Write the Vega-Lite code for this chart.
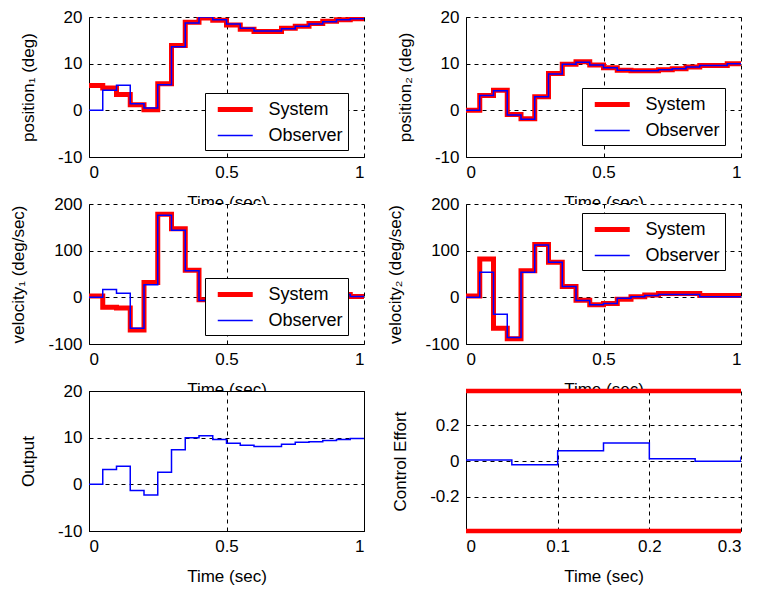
{
  "$schema": "https://vega.github.io/schema/vega-lite/v6.json",
  "background": "white",
  "padding": {"left": 9, "top": 8, "right": 0, "bottom": 3},
  "columns": 2,
  "spacing": {"row": 47, "column": 102},
  "bounds": "flush",
  "resolve": {
    "scale": {"x": "independent", "y": "independent", "color": "independent", "strokeWidth": "independent"},
    "legend": {"color": "independent", "strokeWidth": "independent"}
  },
  "datasets": {
    "d": [
      {"p":"pos1","s":"System","t":0,"y":5.3},{"p":"pos1","s":"System","t":0.05,"y":4.8},{"p":"pos1","s":"System","t":0.1,"y":3.4},{"p":"pos1","s":"System","t":0.15,"y":1.2},{"p":"pos1","s":"System","t":0.2,"y":0.1},{"p":"pos1","s":"System","t":0.25,"y":5.7},{"p":"pos1","s":"System","t":0.3,"y":13.9},{"p":"pos1","s":"System","t":0.35,"y":18.9},{"p":"pos1","s":"System","t":0.4,"y":19.8},{"p":"pos1","s":"System","t":0.45,"y":19.3},{"p":"pos1","s":"System","t":0.5,"y":18.3},{"p":"pos1","s":"System","t":0.55,"y":17.4},{"p":"pos1","s":"System","t":0.6,"y":16.9},{"p":"pos1","s":"System","t":0.65,"y":16.9},{"p":"pos1","s":"System","t":0.7,"y":17.6},{"p":"pos1","s":"System","t":0.75,"y":18.0},{"p":"pos1","s":"System","t":0.8,"y":18.6},{"p":"pos1","s":"System","t":0.85,"y":19.1},{"p":"pos1","s":"System","t":0.9,"y":19.4},{"p":"pos1","s":"System","t":0.95,"y":19.6},{"p":"pos1","s":"System","t":1,"y":19.6},
      {"p":"pos1","s":"Observer","t":0,"y":0},{"p":"pos1","s":"Observer","t":0.05,"y":4.3},{"p":"pos1","s":"Observer","t":0.1,"y":5.4},{"p":"pos1","s":"Observer","t":0.15,"y":1.4},{"p":"pos1","s":"Observer","t":0.2,"y":0.5},{"p":"pos1","s":"Observer","t":0.25,"y":5.5},{"p":"pos1","s":"Observer","t":0.3,"y":13.6},{"p":"pos1","s":"Observer","t":0.35,"y":18.7},{"p":"pos1","s":"Observer","t":0.4,"y":20.0},{"p":"pos1","s":"Observer","t":0.45,"y":19.4},{"p":"pos1","s":"Observer","t":0.5,"y":18.5},{"p":"pos1","s":"Observer","t":0.55,"y":17.6},{"p":"pos1","s":"Observer","t":0.6,"y":17.0},{"p":"pos1","s":"Observer","t":0.65,"y":17.0},{"p":"pos1","s":"Observer","t":0.7,"y":17.5},{"p":"pos1","s":"Observer","t":0.75,"y":18.0},{"p":"pos1","s":"Observer","t":0.8,"y":18.5},{"p":"pos1","s":"Observer","t":0.85,"y":19.0},{"p":"pos1","s":"Observer","t":0.9,"y":19.4},{"p":"pos1","s":"Observer","t":0.95,"y":19.6},{"p":"pos1","s":"Observer","t":1,"y":19.6},
      {"p":"pos2","s":"System","t":0,"y":0},{"p":"pos2","s":"System","t":0.05,"y":3.2},{"p":"pos2","s":"System","t":0.1,"y":4.3},{"p":"pos2","s":"System","t":0.15,"y":-0.9},{"p":"pos2","s":"System","t":0.2,"y":-1.8},{"p":"pos2","s":"System","t":0.25,"y":2.9},{"p":"pos2","s":"System","t":0.3,"y":7.9},{"p":"pos2","s":"System","t":0.35,"y":9.9},{"p":"pos2","s":"System","t":0.4,"y":10.4},{"p":"pos2","s":"System","t":0.45,"y":9.7},{"p":"pos2","s":"System","t":0.5,"y":9.1},{"p":"pos2","s":"System","t":0.55,"y":8.6},{"p":"pos2","s":"System","t":0.6,"y":8.5},{"p":"pos2","s":"System","t":0.65,"y":8.5},{"p":"pos2","s":"System","t":0.7,"y":8.7},{"p":"pos2","s":"System","t":0.75,"y":8.9},{"p":"pos2","s":"System","t":0.8,"y":9.3},{"p":"pos2","s":"System","t":0.85,"y":9.6},{"p":"pos2","s":"System","t":0.9,"y":9.6},{"p":"pos2","s":"System","t":0.95,"y":10.0},{"p":"pos2","s":"System","t":1,"y":10.0},
      {"p":"pos2","s":"Observer","t":0,"y":0},{"p":"pos2","s":"Observer","t":0.05,"y":3.2},{"p":"pos2","s":"Observer","t":0.1,"y":4.2},{"p":"pos2","s":"Observer","t":0.15,"y":-1.0},{"p":"pos2","s":"Observer","t":0.2,"y":-1.9},{"p":"pos2","s":"Observer","t":0.25,"y":2.9},{"p":"pos2","s":"Observer","t":0.3,"y":7.8},{"p":"pos2","s":"Observer","t":0.35,"y":9.9},{"p":"pos2","s":"Observer","t":0.4,"y":10.3},{"p":"pos2","s":"Observer","t":0.45,"y":9.7},{"p":"pos2","s":"Observer","t":0.5,"y":9.1},{"p":"pos2","s":"Observer","t":0.55,"y":8.6},{"p":"pos2","s":"Observer","t":0.6,"y":8.5},{"p":"pos2","s":"Observer","t":0.65,"y":8.5},{"p":"pos2","s":"Observer","t":0.7,"y":8.7},{"p":"pos2","s":"Observer","t":0.75,"y":8.9},{"p":"pos2","s":"Observer","t":0.8,"y":9.3},{"p":"pos2","s":"Observer","t":0.85,"y":9.6},{"p":"pos2","s":"Observer","t":0.9,"y":9.6},{"p":"pos2","s":"Observer","t":0.95,"y":10.0},{"p":"pos2","s":"Observer","t":1,"y":10.0},
      {"p":"vel1","s":"System","t":0,"y":3},{"p":"vel1","s":"System","t":0.05,"y":-21},{"p":"vel1","s":"System","t":0.1,"y":-23},{"p":"vel1","s":"System","t":0.15,"y":-70},{"p":"vel1","s":"System","t":0.2,"y":32},{"p":"vel1","s":"System","t":0.25,"y":178},{"p":"vel1","s":"System","t":0.3,"y":147},{"p":"vel1","s":"System","t":0.35,"y":58},{"p":"vel1","s":"System","t":0.4,"y":-5},{"p":"vel1","s":"System","t":0.45,"y":-15},{"p":"vel1","s":"System","t":0.5,"y":-20},{"p":"vel1","s":"System","t":0.55,"y":-18},{"p":"vel1","s":"System","t":0.6,"y":-10},{"p":"vel1","s":"System","t":0.65,"y":-3},{"p":"vel1","s":"System","t":0.7,"y":5},{"p":"vel1","s":"System","t":0.75,"y":10},{"p":"vel1","s":"System","t":0.8,"y":10},{"p":"vel1","s":"System","t":0.85,"y":8},{"p":"vel1","s":"System","t":0.9,"y":6},{"p":"vel1","s":"System","t":0.95,"y":2},{"p":"vel1","s":"System","t":1,"y":2},
      {"p":"vel1","s":"Observer","t":0,"y":0},{"p":"vel1","s":"Observer","t":0.05,"y":17},{"p":"vel1","s":"Observer","t":0.1,"y":9},{"p":"vel1","s":"Observer","t":0.15,"y":-66},{"p":"vel1","s":"Observer","t":0.2,"y":27},{"p":"vel1","s":"Observer","t":0.25,"y":176},{"p":"vel1","s":"Observer","t":0.3,"y":144},{"p":"vel1","s":"Observer","t":0.35,"y":57},{"p":"vel1","s":"Observer","t":0.4,"y":-7},{"p":"vel1","s":"Observer","t":0.45,"y":-15},{"p":"vel1","s":"Observer","t":0.5,"y":-20},{"p":"vel1","s":"Observer","t":0.55,"y":-18},{"p":"vel1","s":"Observer","t":0.6,"y":-10},{"p":"vel1","s":"Observer","t":0.65,"y":-3},{"p":"vel1","s":"Observer","t":0.7,"y":5},{"p":"vel1","s":"Observer","t":0.75,"y":10},{"p":"vel1","s":"Observer","t":0.8,"y":10},{"p":"vel1","s":"Observer","t":0.85,"y":8},{"p":"vel1","s":"Observer","t":0.9,"y":6},{"p":"vel1","s":"Observer","t":0.95,"y":2},{"p":"vel1","s":"Observer","t":1,"y":2},
      {"p":"vel2","s":"System","t":0,"y":3},{"p":"vel2","s":"System","t":0.05,"y":82},{"p":"vel2","s":"System","t":0.1,"y":-66},{"p":"vel2","s":"System","t":0.15,"y":-89},{"p":"vel2","s":"System","t":0.2,"y":57},{"p":"vel2","s":"System","t":0.25,"y":113},{"p":"vel2","s":"System","t":0.3,"y":75},{"p":"vel2","s":"System","t":0.35,"y":23},{"p":"vel2","s":"System","t":0.4,"y":-6},{"p":"vel2","s":"System","t":0.45,"y":-16},{"p":"vel2","s":"System","t":0.5,"y":-13},{"p":"vel2","s":"System","t":0.55,"y":-4},{"p":"vel2","s":"System","t":0.6,"y":1},{"p":"vel2","s":"System","t":0.65,"y":5},{"p":"vel2","s":"System","t":0.7,"y":8},{"p":"vel2","s":"System","t":0.75,"y":8},{"p":"vel2","s":"System","t":0.8,"y":8},{"p":"vel2","s":"System","t":0.85,"y":4},{"p":"vel2","s":"System","t":0.9,"y":4},{"p":"vel2","s":"System","t":0.95,"y":4},{"p":"vel2","s":"System","t":1,"y":4},
      {"p":"vel2","s":"Observer","t":0,"y":0},{"p":"vel2","s":"Observer","t":0.05,"y":54},{"p":"vel2","s":"Observer","t":0.1,"y":-36},{"p":"vel2","s":"Observer","t":0.15,"y":-86},{"p":"vel2","s":"Observer","t":0.2,"y":54},{"p":"vel2","s":"Observer","t":0.25,"y":112},{"p":"vel2","s":"Observer","t":0.3,"y":75},{"p":"vel2","s":"Observer","t":0.35,"y":23},{"p":"vel2","s":"Observer","t":0.4,"y":-7},{"p":"vel2","s":"Observer","t":0.45,"y":-16},{"p":"vel2","s":"Observer","t":0.5,"y":-13},{"p":"vel2","s":"Observer","t":0.55,"y":-2},{"p":"vel2","s":"Observer","t":0.6,"y":1},{"p":"vel2","s":"Observer","t":0.65,"y":4},{"p":"vel2","s":"Observer","t":0.7,"y":6},{"p":"vel2","s":"Observer","t":0.75,"y":6},{"p":"vel2","s":"Observer","t":0.8,"y":6},{"p":"vel2","s":"Observer","t":0.85,"y":1},{"p":"vel2","s":"Observer","t":0.9,"y":1},{"p":"vel2","s":"Observer","t":0.95,"y":1},{"p":"vel2","s":"Observer","t":1,"y":1},
      {"p":"out","s":"Output","t":0,"y":0},{"p":"out","s":"Output","t":0.05,"y":3.2},{"p":"out","s":"Output","t":0.1,"y":3.9},{"p":"out","s":"Output","t":0.15,"y":-1.3},{"p":"out","s":"Output","t":0.2,"y":-2.3},{"p":"out","s":"Output","t":0.25,"y":2.6},{"p":"out","s":"Output","t":0.3,"y":7.4},{"p":"out","s":"Output","t":0.35,"y":10.0},{"p":"out","s":"Output","t":0.4,"y":10.4},{"p":"out","s":"Output","t":0.45,"y":9.6},{"p":"out","s":"Output","t":0.5,"y":8.8},{"p":"out","s":"Output","t":0.55,"y":8.4},{"p":"out","s":"Output","t":0.6,"y":8.1},{"p":"out","s":"Output","t":0.65,"y":8.1},{"p":"out","s":"Output","t":0.7,"y":8.6},{"p":"out","s":"Output","t":0.75,"y":9.0},{"p":"out","s":"Output","t":0.8,"y":9.1},{"p":"out","s":"Output","t":0.85,"y":9.4},{"p":"out","s":"Output","t":0.9,"y":9.6},{"p":"out","s":"Output","t":0.95,"y":9.8},{"p":"out","s":"Output","t":1,"y":9.8},
      {"p":"ctrl","s":"u","t":0,"y":0.006},{"p":"ctrl","s":"u","t":0.05,"y":-0.021},{"p":"ctrl","s":"u","t":0.1,"y":0.057},{"p":"ctrl","s":"u","t":0.15,"y":0.1},{"p":"ctrl","s":"u","t":0.2,"y":0.013},{"p":"ctrl","s":"u","t":0.25,"y":-0.002},{"p":"ctrl","s":"u","t":0.3,"y":0.023},
      {"p":"lim","s":"hi","t":0,"y":0.39},{"p":"lim","s":"hi","t":0.3,"y":0.39},{"p":"lim","s":"lo","t":0,"y":-0.39},{"p":"lim","s":"lo","t":0.3,"y":-0.39}
    ]
  },
  "concat": [
    {
      "width": 275, "height": 140,
      "data": {"name": "d"},
      "transform": [{"filter": "datum.p == 'pos1'"}],
      "encoding": {
        "x": {"field": "t", "type": "quantitative", "scale": {"domain": [0, 1], "nice": false, "zero": false}, "axis": {"values": [0, 0.5, 1], "labelExpr": "'' + datum.value", "title": "Time (sec)"}},
        "y": {"field": "y", "type": "quantitative", "scale": {"domain": [-10, 20], "nice": false}, "axis": {"values": [-10, 0, 10, 20], "labelExpr": "'' + datum.value", "title": "position₁ (deg)"}},
        "color": {"field": "s", "type": "nominal", "scale": {"domain": ["System", "Observer"], "range": ["#ff0000", "#0000ff"]}, "legend": {"legendX": 116, "legendY": 76}},
        "strokeWidth": {"field": "s", "type": "nominal", "scale": {"domain": ["System", "Observer"], "range": [5, 1.5]}, "legend": {"legendX": 116, "legendY": 76}}
      },
      "layer": [
        {"transform": [{"filter": "datum.s == 'System'"}], "mark": {"type": "line", "interpolate": "step-after", "clip": true}},
        {"transform": [{"filter": "datum.s == 'Observer'"}], "mark": {"type": "line", "interpolate": "step-after", "clip": true}}
      ]
    },
    {
      "width": 275, "height": 140,
      "data": {"name": "d"},
      "transform": [{"filter": "datum.p == 'pos2'"}],
      "encoding": {
        "x": {"field": "t", "type": "quantitative", "scale": {"domain": [0, 1], "nice": false, "zero": false}, "axis": {"values": [0, 0.5, 1], "labelExpr": "'' + datum.value", "title": "Time (sec)"}},
        "y": {"field": "y", "type": "quantitative", "scale": {"domain": [-10, 20], "nice": false}, "axis": {"values": [-10, 0, 10, 20], "labelExpr": "'' + datum.value", "title": "position₂ (deg)"}},
        "color": {"field": "s", "type": "nominal", "scale": {"domain": ["System", "Observer"], "range": ["#ff0000", "#0000ff"]}, "legend": {"legendX": 116, "legendY": 71}},
        "strokeWidth": {"field": "s", "type": "nominal", "scale": {"domain": ["System", "Observer"], "range": [5, 1.5]}, "legend": {"legendX": 116, "legendY": 71}}
      },
      "layer": [
        {"transform": [{"filter": "datum.s == 'System'"}], "mark": {"type": "line", "interpolate": "step-after", "clip": true}},
        {"transform": [{"filter": "datum.s == 'Observer'"}], "mark": {"type": "line", "interpolate": "step-after", "clip": true}}
      ]
    },
    {
      "width": 275, "height": 140,
      "data": {"name": "d"},
      "transform": [{"filter": "datum.p == 'vel1'"}],
      "encoding": {
        "x": {"field": "t", "type": "quantitative", "scale": {"domain": [0, 1], "nice": false, "zero": false}, "axis": {"values": [0, 0.5, 1], "labelExpr": "'' + datum.value", "title": "Time (sec)"}},
        "y": {"field": "y", "type": "quantitative", "scale": {"domain": [-100, 200], "nice": false}, "axis": {"values": [-100, 0, 100, 200], "labelExpr": "'' + datum.value", "title": "velocity₁ (deg/sec)"}},
        "color": {"field": "s", "type": "nominal", "scale": {"domain": ["System", "Observer"], "range": ["#ff0000", "#0000ff"]}, "legend": {"legendX": 116, "legendY": 74}},
        "strokeWidth": {"field": "s", "type": "nominal", "scale": {"domain": ["System", "Observer"], "range": [5, 1.5]}, "legend": {"legendX": 116, "legendY": 74}}
      },
      "layer": [
        {"transform": [{"filter": "datum.s == 'System'"}], "mark": {"type": "line", "interpolate": "step-after", "clip": true}},
        {"transform": [{"filter": "datum.s == 'Observer'"}], "mark": {"type": "line", "interpolate": "step-after", "clip": true}}
      ]
    },
    {
      "width": 275, "height": 140,
      "data": {"name": "d"},
      "transform": [{"filter": "datum.p == 'vel2'"}],
      "encoding": {
        "x": {"field": "t", "type": "quantitative", "scale": {"domain": [0, 1], "nice": false, "zero": false}, "axis": {"values": [0, 0.5, 1], "labelExpr": "'' + datum.value", "title": "Time (sec)"}},
        "y": {"field": "y", "type": "quantitative", "scale": {"domain": [-100, 200], "nice": false}, "axis": {"values": [-100, 0, 100, 200], "labelExpr": "'' + datum.value", "title": "velocity₂ (deg/sec)"}},
        "color": {"field": "s", "type": "nominal", "scale": {"domain": ["System", "Observer"], "range": ["#ff0000", "#0000ff"]}, "legend": {"legendX": 116, "legendY": 9}},
        "strokeWidth": {"field": "s", "type": "nominal", "scale": {"domain": ["System", "Observer"], "range": [5, 1.5]}, "legend": {"legendX": 116, "legendY": 9}}
      },
      "layer": [
        {"transform": [{"filter": "datum.s == 'System'"}], "mark": {"type": "line", "interpolate": "step-after", "clip": true}},
        {"transform": [{"filter": "datum.s == 'Observer'"}], "mark": {"type": "line", "interpolate": "step-after", "clip": true}}
      ]
    },
    {
      "width": 275, "height": 140,
      "view": {"stroke": "black", "strokeWidth": 1},
      "data": {"name": "d"},
      "transform": [{"filter": "datum.p == 'out'"}],
      "mark": {"type": "line", "interpolate": "step-after", "clip": true, "color": "#0000ff", "strokeWidth": 1.5},
      "encoding": {
        "x": {"field": "t", "type": "quantitative", "scale": {"domain": [0, 1], "nice": false, "zero": false}, "axis": {"values": [0, 0.5, 1], "labelExpr": "'' + datum.value", "title": "Time (sec)"}},
        "y": {"field": "y", "type": "quantitative", "scale": {"domain": [-10, 20], "nice": false}, "axis": {"values": [-10, 0, 10, 20], "labelExpr": "'' + datum.value", "title": "Output"}}
      }
    },
    {
      "width": 275, "height": 140,
      "data": {"name": "d"},
      "encoding": {
        "x": {"field": "t", "type": "quantitative", "scale": {"domain": [0, 0.3], "nice": false, "zero": false}, "axis": {"values": [0, 0.1, 0.2, 0.3], "labelExpr": "'' + datum.value", "title": "Time (sec)"}},
        "y": {"field": "y", "type": "quantitative", "scale": {"domain": [-0.39, 0.39], "nice": false}, "axis": {"values": [-0.2, 0, 0.2], "labelExpr": "'' + datum.value", "title": "Control Effort"}}
      },
      "layer": [
        {"transform": [{"filter": "datum.p == 'ctrl'"}], "mark": {"type": "line", "interpolate": "step-after", "clip": true, "color": "#0000ff", "strokeWidth": 1.5}},
        {"transform": [{"filter": "datum.p == 'lim'"}], "mark": {"type": "line", "color": "#ff0000", "strokeWidth": 4.5}, "encoding": {"detail": {"field": "s"}}}
      ]
    }
  ],
  "config": {
    "font": "Liberation Sans",
    "view": {"stroke": null, "fill": "white"},
    "axis": {
      "grid": true, "gridColor": "black", "gridDash": [4, 4], "gridOpacity": 1, "gridWidth": 1,
      "domainColor": "black", "domainWidth": 1, "ticks": false,
      "labelFont": "Liberation Sans", "labelFontSize": 17, "labelColor": "black",
      "titleFont": "Liberation Sans", "titleFontSize": 17, "titleFontWeight": "normal", "titleColor": "black"
    },
    "axisX": {"labelPadding": 7, "titlePadding": 14},
    "axisY": {"labelPadding": 7, "titlePadding": 20},
    "legend": {
      "orient": "none", "title": null,
      "labelFont": "Liberation Sans", "labelFontSize": 18, "labelColor": "black",
      "labelExpr": "datum.label + '\u00a0\u00a0'",
      "strokeColor": "black", "fillColor": "white", "padding": 5, "symbolOffset": 13.75,
      "symbolType": "M-2,0L2,0", "symbolSize": 306, "labelOffset": 21.75, "rowPadding": 6
    }
  }
}
